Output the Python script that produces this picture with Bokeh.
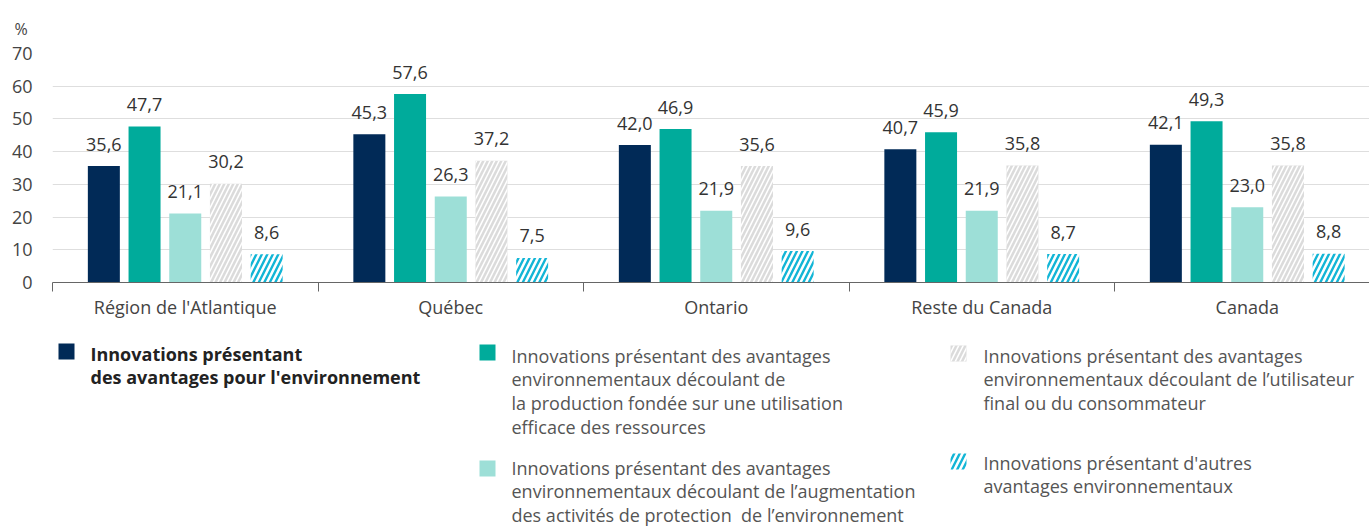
from bokeh.plotting import figure
from bokeh.models import Range1d, FixedTicker
from bokeh.layouts import column
from bokeh.embed import file_html
from bokeh.resources import INLINE
from bokeh.core.properties import value

# ---------------- data ----------------
regions = ["Région de l'Atlantique", "Québec", "Ontario", "Reste du Canada", "Canada"]
env_total = [35.6, 45.3, 42.0, 40.7, 42.1]
env_production = [47.7, 57.6, 46.9, 45.9, 49.3]
env_protection = [21.1, 26.3, 21.9, 21.9, 23.0]
env_end_user = [30.2, 37.2, 35.6, 35.8, 35.8]
env_other = [8.6, 7.5, 9.6, 8.7, 8.8]
y_ticks = [0, 10, 20, 30, 40, 50, 60, 70]
unit_label = "%"

legend_labels = [
    ["Innovations présentant", "des avantages pour l'environnement"],
    ["Innovations présentant des avantages", "environnementaux découlant de",
     "la production fondée sur une utilisation", "efficace des ressources"],
    ["Innovations présentant des avantages",
     "environnementaux découlant de l\u2019augmentation",
     "des activités de protection \u00a0de l\u2019environnement"],
    ["Innovations présentant des avantages",
     "environnementaux découlant de l\u2019utilisateur", "final ou du consommateur"],
    ["Innovations présentant d'autres", "avantages environnementaux"],
]

FONT = "Open Sans"
FS = "18px"
series = [env_total, env_production, env_protection, env_end_user, env_other]
styles = [
    dict(fill_color="#012A57"),
    dict(fill_color="#00AB9B"),
    dict(fill_color="#9DDFD7"),
    dict(fill_color="#DBDBDB", hatch_pattern="/", hatch_color="white",
         hatch_weight=1.6, hatch_scale=9),
    dict(fill_color="white", hatch_pattern="/", hatch_color="#12B5D6",
         hatch_weight=2.4, hatch_scale=11),
]

# ---------------- chart ----------------
W = 1369
cat_px = 265.5
frame_left = 52
frame_w = W - frame_left
p = figure(width=W, height=330, output_backend="svg", toolbar_location=None,
           x_range=Range1d(0, frame_w / cat_px), y_range=Range1d(0, 70),
           min_border_left=frame_left, min_border_right=0, min_border_top=53,
           min_border_bottom=48)
p.outline_line_color = None
p.background_fill_color = "white"
p.border_fill_color = "white"

offsets = [-2, -1, 0, 1, 2]
step = 40.7 / cat_px
bw = 32 / cat_px
for s, off, st in zip(series, offsets, styles):
    xs = [i + 0.5 + off * step for i in range(len(regions))]
    p.vbar(x=xs, top=s, bottom=0, width=bw, line_color=None, **st)
    labels = [f"{v:.1f}".replace(".", ",") for v in s]
    p.text(x=xs, y=s, text=labels, text_align="center",
           text_baseline="alphabetic", y_offset=-22,
           text_font=value(FONT), text_font_size=FS, text_color="#333333")

# x axis
p.xaxis.ticker = FixedTicker(ticks=[i + 0.5 for i in range(len(regions))],
                             minor_ticks=list(range(len(regions) + 1)))
p.xaxis.major_label_overrides = {i + 0.5: r for i, r in enumerate(regions)}
p.xaxis.major_tick_out = 0
p.xaxis.major_tick_in = 0
p.xaxis.minor_tick_out = 9
p.xaxis.minor_tick_in = 0
p.xaxis.minor_tick_line_color = "#666666"
p.xaxis.axis_line_color = "#666666"
p.xaxis.major_label_standoff = 3
p.xaxis.major_label_text_font = FONT
p.xaxis.major_label_text_font_size = FS
p.xaxis.major_label_text_color = "#444444"

# y axis
p.yaxis.ticker = FixedTicker(ticks=y_ticks)
p.yaxis.axis_line_color = None
p.yaxis.major_tick_line_color = None
p.yaxis.minor_tick_line_color = None
p.yaxis.major_label_standoff = 14
p.yaxis.major_label_text_font = FONT
p.yaxis.major_label_text_font_size = FS
p.yaxis.major_label_text_color = "#444444"

p.xgrid.grid_line_color = None
p.ygrid.grid_line_color = "#DEDEDE"
p.ygrid.ticker = FixedTicker(ticks=y_ticks[1:])

p.title.text = unit_label
p.title.align = "left"
p.title.offset = -38
p.title.standoff = 28
p.title.text_font = FONT
p.title.text_font_size = "16px"
p.title.text_font_style = "normal"
p.title.text_color = "#444444"

# ---------------- legend ----------------
LH = 197
TOP = 330
lg = figure(width=W, height=LH, output_backend="svg", toolbar_location=None,
            x_range=Range1d(frame_left, W), y_range=Range1d(LH, 0),
            min_border=0, min_border_left=frame_left, min_border_right=0,
            min_border_top=0, min_border_bottom=0)
lg.axis.visible = False
lg.grid.visible = False
lg.outline_line_color = None

# (square centre x, square centre y, text x, first line y) in page pixels
positions = [(66, 351, 90, 353), (487, 352, 511, 355), (487, 468, 511, 467),
             (958, 353, 983, 355), (958, 461, 983, 462)]
line_h = 23.8
for k, (lab, (sx, sy, tx, ty)) in enumerate(zip(legend_labels, positions)):
    lg.rect(x=[sx], y=[sy - TOP], width=16, height=16,
            line_color=None, **styles[k])
    ys = [ty - TOP + i * line_h for i in range(len(lab))]
    lg.text(x=[tx] * len(lab), y=ys, text=lab, text_align="left",
            text_baseline="middle", text_font=value(FONT), text_font_size=FS,
            text_color="#222222" if k == 0 else "#555555",
            text_font_style="bold" if k == 0 else "normal")

layout = column(p, lg, spacing=0)
open("out.html", "w").write(file_html(layout, INLINE))
